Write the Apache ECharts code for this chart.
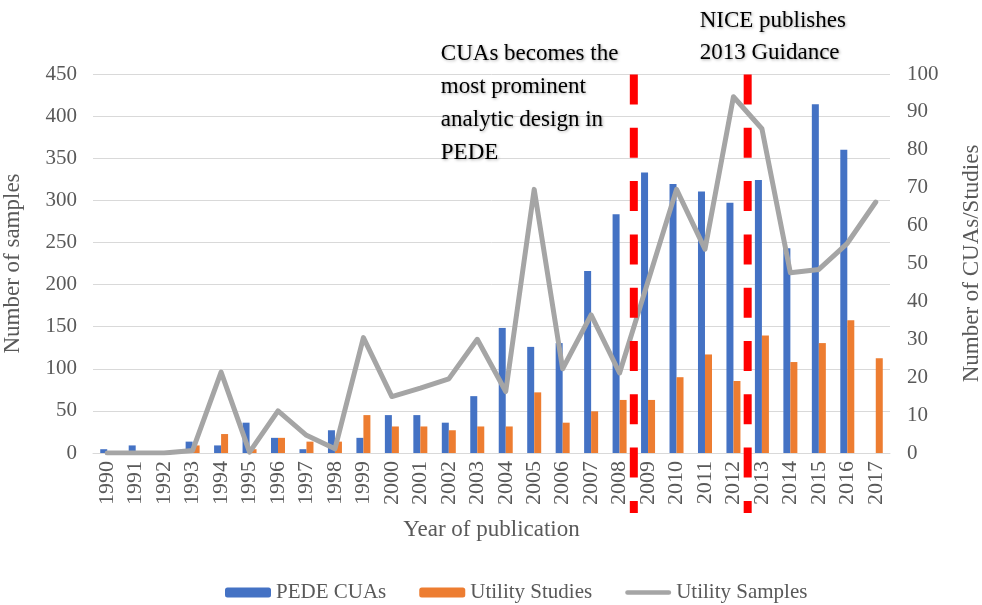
<!DOCTYPE html>
<html>
<head>
<meta charset="utf-8">
<script src="https://cdn.jsdelivr.net/npm/echarts@6/dist/echarts.min.js"></script>
<style>
html,body{margin:0;padding:0;background:#ffffff;}
#chart{width:982px;height:605px;}
</style>
</head>
<body>
<div id="chart"></div>
<script>
// ---- data ----
const years = ['1990','1991','1992','1993','1994','1995','1996','1997','1998','1999',
  '2000','2001','2002','2003','2004','2005','2006','2007','2008','2009',
  '2010','2011','2012','2013','2014','2015','2016','2017'];
// Number of CUAs/Studies (right axis)
const pedeCUAs = [1,2,0,3,2,8,4,1,6,4,10,10,8,15,33,28,29,48,63,74,71,69,66,72,54,92,80,0];
const utilityStudies = [0,0,0,2,5,1,4,3,3,10,7,7,6,7,7,16,8,11,14,14,20,26,19,31,24,29,35,25];
// Number of samples (left axis)
const utilitySamples = [0,0,0,3,96,1,50,21,5,137,67,77,88,135,73,313,100,164,95,204,313,242,423,385,214,218,249,298];
const seriesNames = ['PEDE CUAs','Utility Studies','Utility Samples'];
const annotations = [
  {text:'CUAs becomes the\nmost prominent\nanalytic design in\nPEDE', between:['2008','2009']},
  {text:'NICE publishes\n2013 Guidance', between:['2012','2013']}
];

const FONT = "'Liberation Serif','Times New Roman',serif";
const GREY = '#595959';

const chart = echarts.init(document.getElementById('chart'), null, {renderer:'canvas'});
const option = {
  animation:false,
  backgroundColor:'#ffffff',
  textStyle:{fontFamily:FONT},
  grid:{left:93, right:92, top:74, bottom:152, containLabel:false, outerBoundsMode:'none'},
  legend:{
    data:[
      {name:seriesNames[0]},
      {name:seriesNames[1]},
      {name:seriesNames[2], icon:'path://M2.5,0 L46.5,0 A2.5,2.5 0 0 1 46.5,5 L2.5,5 A2.5,2.5 0 0 1 2.5,0 Z'}
    ],
    left:220, top:577,
    itemWidth:46, itemHeight:10, itemGap:33,
    textStyle:{fontFamily:FONT, fontSize:21, color:GREY}
  },
  xAxis:{
    type:'category', data:years,
    name:'Year of publication', nameLocation:'middle', nameGap:65,
    nameTextStyle:{fontFamily:FONT, fontSize:23, color:GREY},
    axisLine:{lineStyle:{color:'#D9D9D9', width:1}},
    axisTick:{show:false},
    axisLabel:{rotate:90, margin:8, fontFamily:FONT, fontSize:22, color:GREY, interval:0}
  },
  yAxis:[
    {
      type:'value', min:0, max:450, interval:50, position:'left',
      name:'Number of samples', nameLocation:'middle', nameGap:69, nameRotate:90,
      nameTextStyle:{fontFamily:FONT, fontSize:23, color:GREY},
      axisLine:{show:false}, axisTick:{show:false},
      axisLabel:{margin:16, fontFamily:FONT, fontSize:21, color:GREY},
      splitLine:{lineStyle:{color:'#D9D9D9', width:1}}
    },
    {
      type:'value', min:0, max:100, interval:10, position:'right',
      name:'Number of CUAs/Studies', nameLocation:'middle', nameGap:70, nameRotate:90,
      nameTextStyle:{fontFamily:FONT, fontSize:23, color:GREY},
      axisLine:{show:false}, axisTick:{show:false},
      axisLabel:{margin:17, fontFamily:FONT, fontSize:21, color:GREY},
      splitLine:{show:false}
    }
  ],
  series:[
    {name:seriesNames[0], type:'bar', yAxisIndex:1, data:pedeCUAs, barWidth:7, barGap:'0%',
     itemStyle:{color:'#4472C4'}, z:2},
    {name:seriesNames[1], type:'bar', yAxisIndex:1, data:utilityStudies, barWidth:7, barGap:'0%',
     itemStyle:{color:'#ED7D31'}, z:2},
    {name:seriesNames[2], type:'line', yAxisIndex:0, data:utilitySamples, symbol:'none',
     lineStyle:{color:'#A5A5A5', width:5, join:'round', cap:'round'}, itemStyle:{color:'#A5A5A5'}, z:3}
  ]
};
chart.setOption(option);

function drawAnnotations(){
  const topY = chart.convertToPixel({yAxisIndex:0}, 450);
  const gfx = [];
  annotations.forEach((a, i) => {
    const xa = chart.convertToPixel({xAxisIndex:0}, a.between[0]);
    const xb = chart.convertToPixel({xAxisIndex:0}, a.between[1]);
    const x = (xa + xb) / 2;
    gfx.push({
      type:'line', z:100, silent:true,
      shape:{x1:x, y1:topY + 0.5, x2:x, y2:513},
      style:{stroke:'#FF0000', lineWidth:8, lineDash:[30,23.3], lineCap:'butt'}
    });
    const txt = i === 0
      ? {x: x - 193, y: 103, lineHeight:33}
      : {x: x - 48, y: 37, lineHeight:32};
    gfx.push({
      type:'text', z:101, silent:true,
      style:{
        x: txt.x, y: txt.y, text:a.text,
        font: "23px 'Liberation Serif','Times New Roman',serif",
        fill:'#000000', align:'left', verticalAlign:'middle', lineHeight:txt.lineHeight,
        textShadowColor:'rgba(0,0,0,0.35)', textShadowBlur:3, textShadowOffsetX:1, textShadowOffsetY:1
      }
    });
  });
  chart.setOption({graphic:gfx});
}
drawAnnotations();
</script>
</body>
</html>
